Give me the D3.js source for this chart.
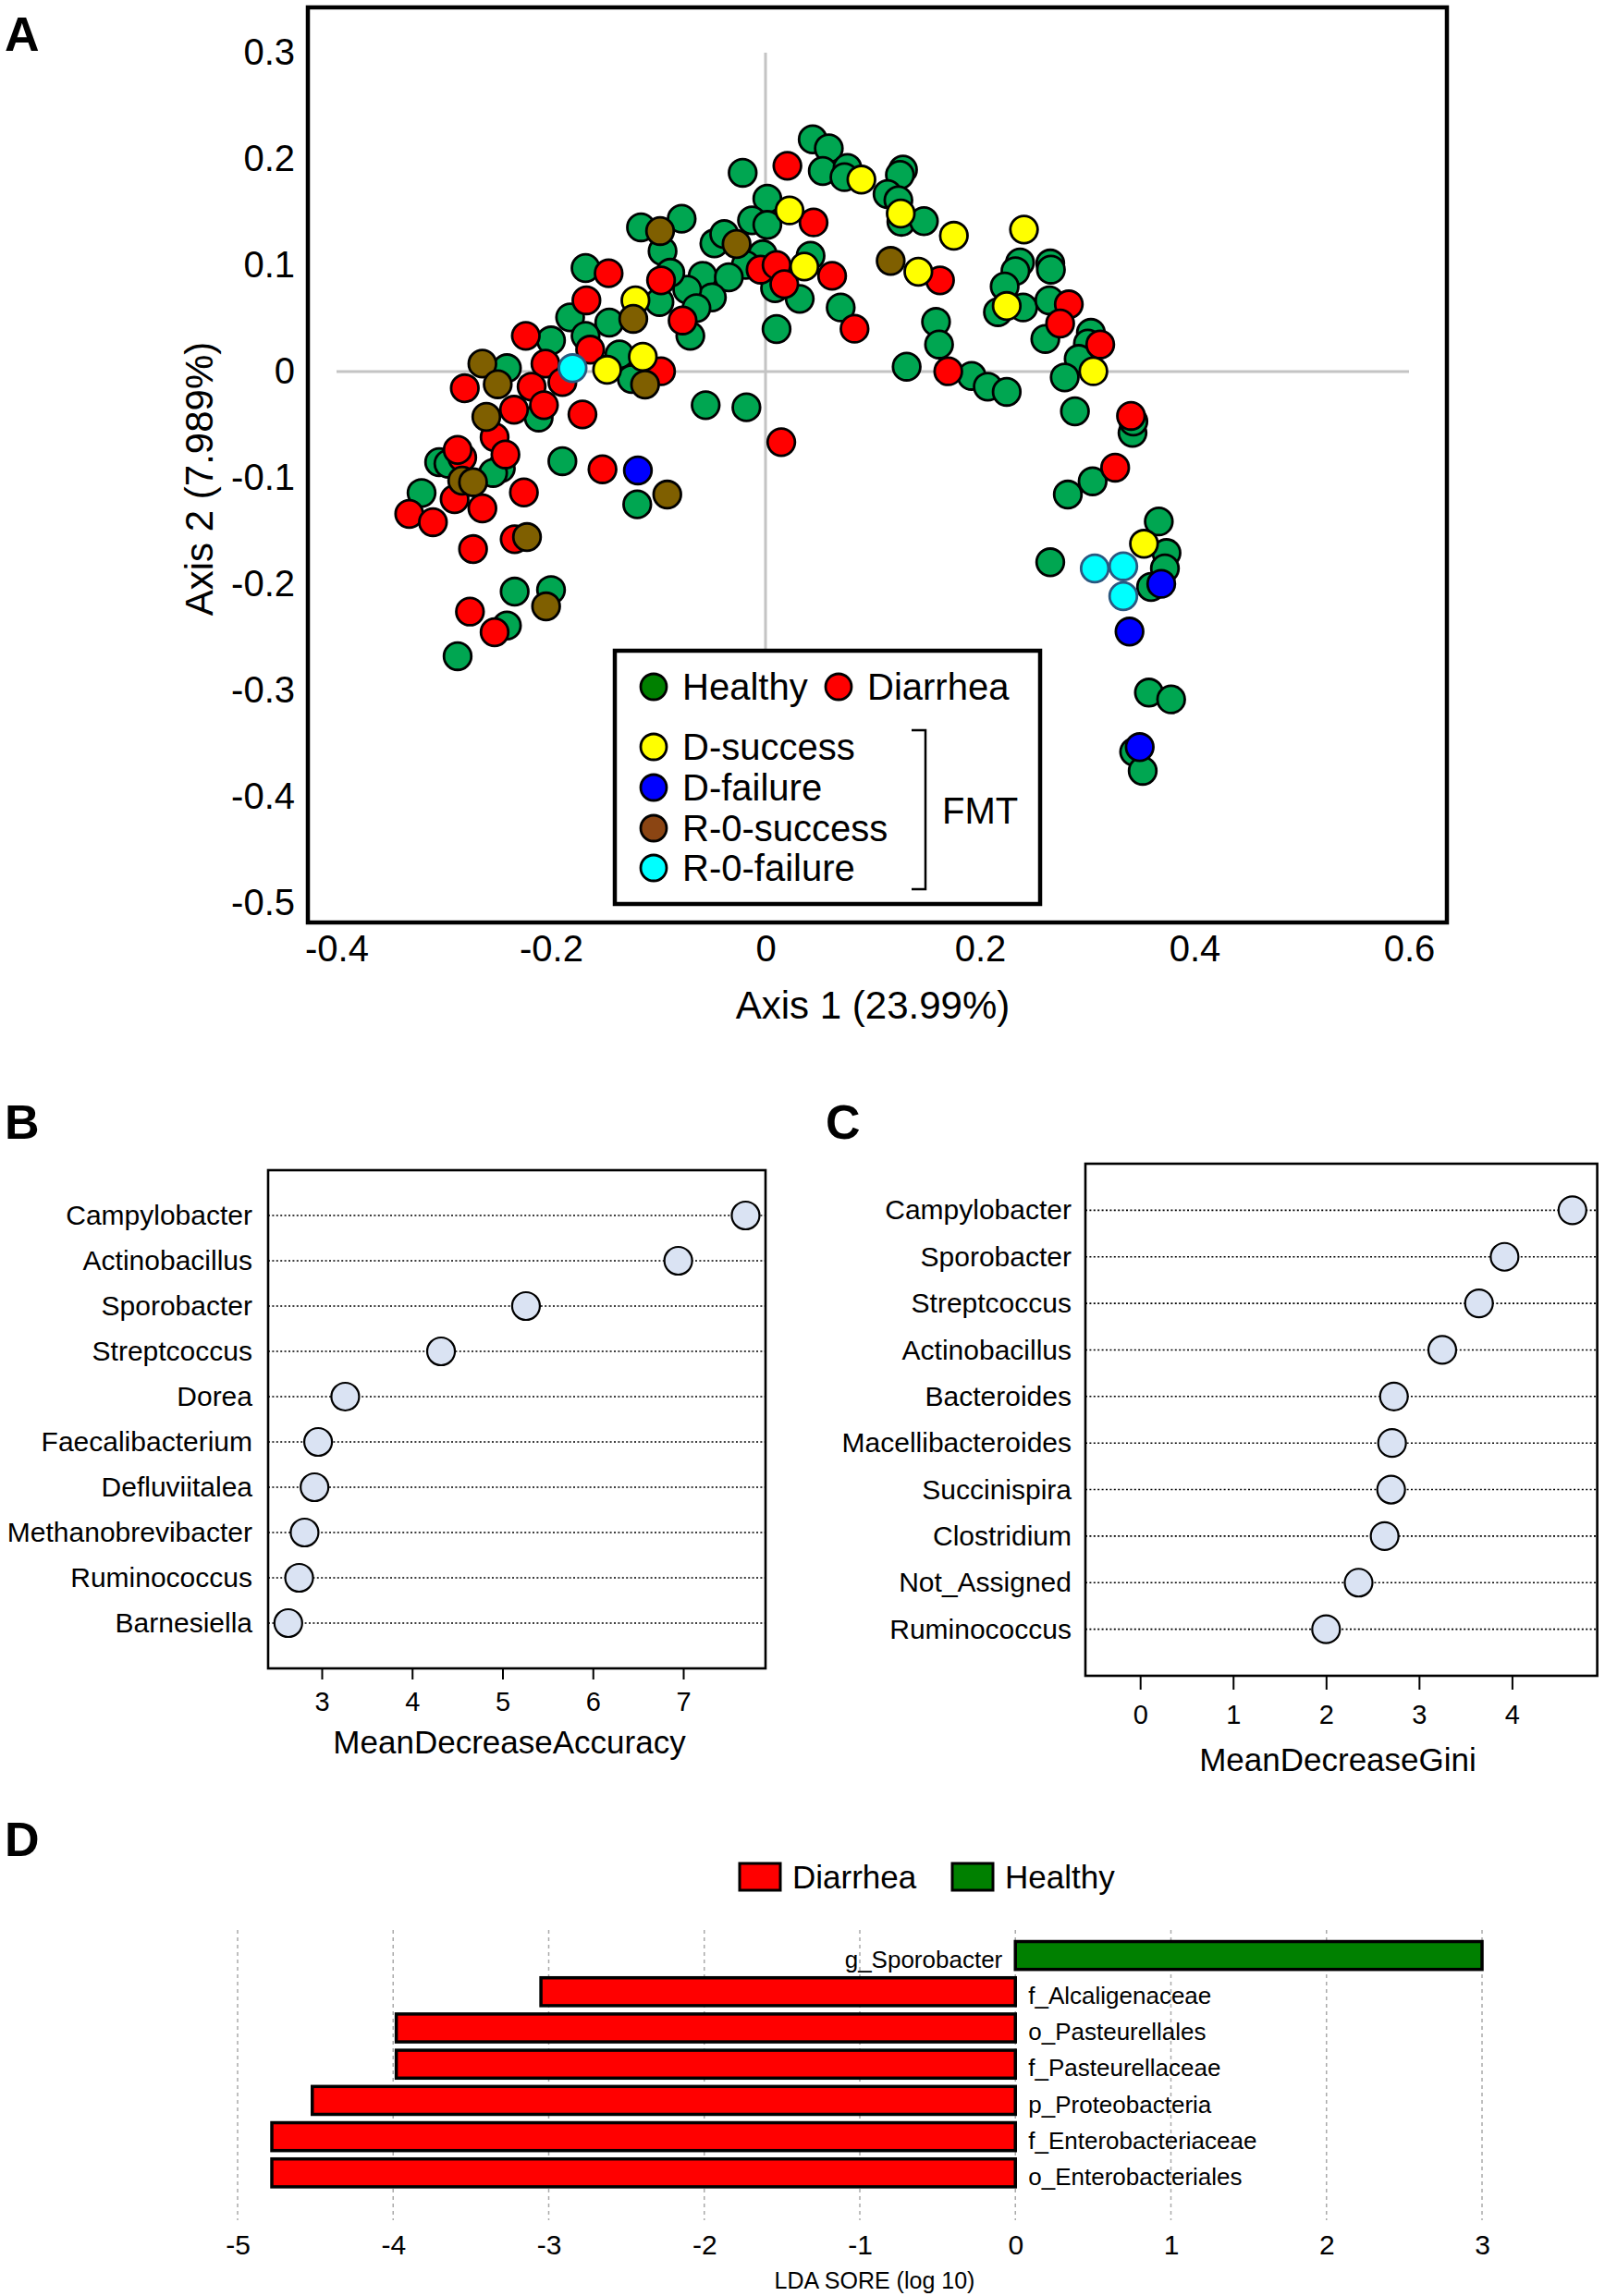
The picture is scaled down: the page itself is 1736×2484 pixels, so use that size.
<!DOCTYPE html>
<html><head><meta charset="utf-8">
<script src="https://cdn.jsdelivr.net/npm/d3@7"></script>
<style>body{margin:0;background:#fff}</style>
</head><body><svg id="c" width="1736" height="2484"></svg>
<script>
// ---------------- Panel A data (PCoA coordinates) ----------------
const healthy = [
[0.044,0.2185],[0.059,0.210],[0.0534,0.1887],[-0.0213,0.187],[0.0017,0.1626],[-0.0126,0.1423],[0.0017,0.138],
[-0.0477,0.1206],[-0.0385,0.1293],[-0.0026,0.1104],[-0.0184,0.1003],[0.0089,0.0785],[0.042,0.109],[0.0319,0.0684],
[0.0103,0.04],[-0.0782,0.1438],[-0.1161,0.1357],[-0.096,0.1133],[-0.0586,0.0901],[-0.0342,0.0887],[-0.05,0.0698],
[-0.073,0.0771],[-0.0701,0.0336],[-0.0989,0.0655],[-0.0888,0.093],[-0.0644,0.0597],[-0.1457,0.0461],[-0.1678,0.0974],
[-0.1822,0.051],[-0.1678,0.0336],[-0.2,0.0293],[-0.1362,0.0162],[-0.1247,-0.007],[-0.2411,0.0032],[-0.2115,-0.0432],
[-0.0558,-0.0316],[-0.0178,-0.0336],[-0.3043,-0.0852],[-0.2957,-0.0867],[-0.2468,-0.091],[-0.254,-0.0954],
[-0.3207,-0.1142],[-0.1894,-0.0843],[-0.1196,-0.1249],[-0.2339,-0.207],[-0.2,-0.2055],[-0.2411,-0.2389],
[-0.2871,-0.2678],[0.0764,0.1916],[0.0736,0.1829],[0.1282,0.19],[0.1253,0.185],[0.1138,0.167],[0.1239,0.1612],
[0.1267,0.1409],[0.1477,0.1415],[0.0701,0.0603],[0.159,0.0467],[0.1618,0.0255],[0.1316,0.0046],[0.1922,-0.0041],
[0.2072,-0.0142],[0.2249,-0.0191],[0.2373,0.1026],[0.233,0.0945],[0.2655,0.1017],[0.2661,0.0959],[0.223,0.08],
[0.2167,0.0559],[0.2402,0.0603],[0.2647,0.067],[0.2609,0.0307],[0.3034,0.0365],[0.3006,0.0264],[0.292,0.0119],
[0.279,-0.0055],[0.2885,-0.0374],[0.3422,-0.0577],[0.343,-0.047],[0.305,-0.1032],[0.2819,-0.1157],[0.3667,-0.141],
[0.3739,-0.1707],[0.3724,-0.1852],[0.3595,-0.2026],[0.2655,-0.1794],[0.3575,-0.302],[0.3782,-0.3084],
[0.3437,-0.3577],[0.3517,-0.3756]
];
const diarrhea = [
[0.0204,0.1936],[0.0448,0.1403],[-0.0046,0.0959],[0.0103,0.1003],[0.0175,0.0823],[-0.0773,0.0481],[-0.0974,0.0858],
[-0.1463,0.0925],[-0.167,0.067],[-0.2235,0.0336],[-0.1635,0.0206],[-0.2052,0.0075],[-0.0974,0.0003],[-0.2804,-0.0157],
[-0.1894,-0.0099],[-0.2181,-0.0142],[-0.2066,-0.0316],[-0.2345,-0.0359],[-0.1707,-0.0403],[0.0147,-0.0664],
[-0.2526,-0.0617],[-0.2425,-0.078],[-0.2828,-0.0809],[-0.2871,-0.0737],[-0.2899,-0.12],[-0.264,-0.1287],
[-0.3322,-0.1339],[-0.3101,-0.1417],[-0.2253,-0.1137],[-0.2727,-0.167],[-0.2339,-0.1577],[-0.152,-0.0919],
[-0.2756,-0.2258],[-0.2526,-0.2452],[0.0621,0.0901],[0.083,0.0403],[0.1627,0.0858],[0.1704,0.0003],[0.2828,0.0632],
[0.2747,0.0452],[0.3121,0.0255],[0.3408,-0.0417],[0.326,-0.0904]
];
const dSuccess = [
[0.0224,0.1516],[0.0362,0.0988],[-0.1213,0.067],[-0.1477,0.0017],[-0.1144,0.0139],[0.0894,0.1806],[0.1261,0.1487],
[0.1756,0.1278],[0.1425,0.0939],[0.241,0.1336],[0.2249,0.0617],[0.3057,0.0003],[0.3529,-0.162]
];
const dFailure = [[-0.119,-0.093],[0.369,-0.1997],[0.3394,-0.2446],[0.3489,-0.3533]];
const r0Success = [
[-0.027,0.12],[-0.0983,0.1322],[-0.1233,0.0496],[-0.1123,-0.0122],[-0.264,0.0075],[-0.2497,-0.0119],[-0.2603,-0.0426],
[-0.2828,-0.1026],[-0.2727,-0.1041],[-0.2224,-0.1557],[-0.0916,-0.1157],[-0.2046,-0.2209],[0.1167,0.1041]
];
const r0Failure = [[-0.1799,0.0032],[0.307,-0.1852],[0.3336,-0.1832],[0.3336,-0.2113]];
const xTicksA = [-0.4,-0.2,0,0.2,0.4,0.6];
const yTicksA = [0.3,0.2,0.1,0,-0.1,-0.2,-0.3,-0.4,-0.5];
const legendTopA = ["Healthy","Diarrhea"];
const legendFmtA = ["D-success","D-failure","R-0-success","R-0-failure"];

// ---------------- Panel B data ----------------
const taxaB = ["Campylobacter","Actinobacillus","Sporobacter","Streptcoccus","Dorea","Faecalibacterium","Defluviitalea","Methanobrevibacter","Ruminococcus","Barnesiella"];
const accuracyB = [7.69,6.945,5.26,4.32,3.26,2.96,2.92,2.81,2.75,2.63];
const xTicksB = [3,4,5,6,7];

// ---------------- Panel C data ----------------
const taxaC = ["Campylobacter","Sporobacter","Streptcoccus","Actinobacillus","Bacteroides","Macellibacteroides","Succinispira","Clostridium","Not_Assigned","Ruminococcus"];
const giniC = [4.65,3.92,3.645,3.25,2.73,2.71,2.70,2.63,2.35,2.00];
const xTicksC = [0,1,2,3,4];

// ---------------- Panel D data ----------------
const taxaD = ["g_Sporobacter","f_Alcaligenaceae","o_Pasteurellales","f_Pasteurellaceae","p_Proteobacteria","f_Enterobacteriaceae","o_Enterobacteriales"];
const ldaD = [3.0,-3.05,-3.98,-3.98,-4.52,-4.78,-4.78];
const classD = ["Healthy","Diarrhea","Diarrhea","Diarrhea","Diarrhea","Diarrhea","Diarrhea"];
const xTicksD = [-5,-4,-3,-2,-1,0,1,2,3];
const legendD = ["Diarrhea","Healthy"];

// ---------------- Drawing ----------------
const FONT = '"Liberation Sans", Arial, Helvetica, sans-serif';
const svg = d3.select("#c");
svg.append("rect").attr("width",1736).attr("height",2484).attr("fill","#fff");

function styleAxis(g, size){
  g.select(".domain").remove();
  g.selectAll("text").attr("font-size",size).attr("font-family",FONT).attr("fill","#000");
  g.selectAll("line").attr("stroke","#000").attr("stroke-width",2);
}
function panelLabel(t,x,y){
  svg.append("text").attr("x",x).attr("y",y).text(t).attr("font-family",FONT)
    .attr("font-weight","bold").attr("font-size",52).attr("fill","#000");
}

// ===== Panel A =====
panelLabel("A",5,55);
const xA = d3.scaleLinear().domain([-0.4,0.6]).range([364,1524]);
const yA = d3.scaleLinear().domain([-0.5,0.3]).range([977,57]);
const A = svg.append("g");
A.append("line").attr("x1",xA(-0.4)).attr("x2",xA(0.6)).attr("y1",yA(0)).attr("y2",yA(0))
  .attr("stroke","#c4c4c4").attr("stroke-width",3);
A.append("line").attr("x1",xA(0)).attr("x2",xA(0)).attr("y1",yA(0.3)).attr("y2",yA(-0.5))
  .attr("stroke","#c4c4c4").attr("stroke-width",3);

const groupsA = [
  {data:healthy, fill:"#00a651", stroke:"#000"},
  {data:diarrhea, fill:"#ff0000", stroke:"#000"},
  {data:dSuccess, fill:"#ffff00", stroke:"#000"},
  {data:dFailure, fill:"#0000ff", stroke:"#000"},
  {data:r0Success, fill:"#7f5f00", stroke:"#000"},
  {data:r0Failure, fill:"#00ffff", stroke:"#2a5880"}
];
groupsA.forEach(gr=>{
  A.append("g").selectAll("circle").data(gr.data).join("circle")
    .attr("cx",d=>xA(d[0])).attr("cy",d=>yA(d[1])).attr("r",14.8)
    .attr("fill",gr.fill).attr("stroke",gr.stroke).attr("stroke-width",2.8);
});

const axXA = A.append("g").attr("transform","translate(0,998)")
  .call(d3.axisBottom(xA).tickValues(xTicksA).tickSize(0).tickPadding(14).tickFormat(d=>String(d)));
styleAxis(axXA,40);
const axYA = A.append("g").attr("transform","translate(333,0)")
  .call(d3.axisLeft(yA).tickValues(yTicksA).tickSize(0).tickPadding(14).tickFormat(d=>String(d)));
styleAxis(axYA,40);

A.append("rect").attr("x",333).attr("y",8).attr("width",1232).attr("height",990)
  .attr("fill","none").attr("stroke","#000").attr("stroke-width",4.5);
A.append("text").attr("x",944).attr("y",1102).attr("text-anchor","middle").attr("font-family",FONT)
  .attr("font-size",42).text("Axis 1 (23.99%)");
A.append("text").attr("transform","translate(230,518) rotate(-90)").attr("text-anchor","middle")
  .attr("font-family",FONT).attr("font-size",42).text("Axis 2 (7.989%)");

// legend
const LA = A.append("g");
LA.append("rect").attr("x",665).attr("y",704).attr("width",460).attr("height",274)
  .attr("fill","#fff").attr("stroke","#000").attr("stroke-width",4.5);
const legTopColors = ["#008000","#ff0000"];
const legTopX = [707,907];
legendTopA.forEach((t,i)=>{
  LA.append("circle").attr("cx",legTopX[i]).attr("cy",743).attr("r",14).attr("fill",legTopColors[i])
    .attr("stroke","#000").attr("stroke-width",2.8);
  LA.append("text").attr("x",legTopX[i]+31).attr("y",743).attr("dy","0.35em").attr("font-family",FONT)
    .attr("font-size",40).text(t);
});
const legFmtColors = ["#ffff00","#0000ff","#8b4513","#00ffff"];
const legFmtY = [808,852,896,939];
legendFmtA.forEach((t,i)=>{
  LA.append("circle").attr("cx",707).attr("cy",legFmtY[i]).attr("r",14).attr("fill",legFmtColors[i])
    .attr("stroke","#000").attr("stroke-width",2.8);
  LA.append("text").attr("x",738).attr("y",legFmtY[i]).attr("dy","0.35em").attr("font-family",FONT)
    .attr("font-size",40).text(t);
});
LA.append("path").attr("d","M986,790H1001V962H986").attr("fill","none").attr("stroke","#000").attr("stroke-width",2.5);
LA.append("text").attr("x",1019).attr("y",877).attr("dy","0.35em").attr("font-family",FONT)
  .attr("font-size",40).text("FMT");

// ===== Dot charts (B, C) =====
function dotChart(opt){
  const g = svg.append("g");
  const x = d3.scaleLinear().domain(opt.xd).range(opt.xr);
  const y = d3.scalePoint().domain(opt.taxa).range([opt.top,opt.bottom]).padding(1);
  g.selectAll("line.dot").data(opt.taxa).join("line").attr("class","dot")
    .attr("x1",opt.left).attr("x2",opt.right).attr("y1",d=>y(d)).attr("y2",d=>y(d))
    .attr("stroke","#000").attr("stroke-width",1.6).attr("stroke-dasharray","2,2.4");
  g.selectAll("circle").data(opt.vals).join("circle")
    .attr("cx",d=>x(d)).attr("cy",(d,i)=>y(opt.taxa[i])).attr("r",15)
    .attr("fill","#dae3f3").attr("stroke","#000").attr("stroke-width",2.2);
  g.append("rect").attr("x",opt.left).attr("y",opt.top).attr("width",opt.right-opt.left)
    .attr("height",opt.bottom-opt.top).attr("fill","none").attr("stroke","#000").attr("stroke-width",2.6);
  const ax = g.append("g").attr("transform",`translate(0,${opt.bottom})`)
    .call(d3.axisBottom(x).tickValues(opt.ticks).tickSize(opt.tickSize).tickSizeOuter(0).tickPadding(opt.tickPad).tickFormat(d=>String(d)));
  styleAxis(ax,29);
  const ay = g.append("g").attr("transform",`translate(${opt.left},0)`)
    .call(d3.axisLeft(y).tickSize(0).tickPadding(opt.labPad));
  styleAxis(ay,30);
  g.append("text").attr("x",opt.titleX).attr("y",opt.titleY).attr("text-anchor","middle")
    .attr("font-family",FONT).attr("font-size",35).text(opt.title);
}
panelLabel("B",5,1232);
dotChart({taxa:taxaB, vals:accuracyB, xd:[3,7], xr:[348,739], left:290, right:828, top:1266, bottom:1805,
  ticks:xTicksB, tickSize:12, tickPad:13, labPad:17, title:"MeanDecreaseAccuracy", titleX:551, titleY:1897});
panelLabel("C",893,1232);
dotChart({taxa:taxaC, vals:giniC, xd:[0,4], xr:[1233.2,1635.4], left:1174, right:1727.6, top:1259, bottom:1813,
  ticks:xTicksC, tickSize:15, tickPad:16, labPad:15, title:"MeanDecreaseGini", titleX:1447, titleY:1916});

// ===== Panel D =====
panelLabel("D",5,2008);
const xD = d3.scaleLinear().domain([-5,3]).range([257,1603]);
const yD = d3.scaleBand().domain(taxaD).range([2096,2370.4]).paddingInner(0.23).paddingOuter(0.115);
const D = svg.append("g");
const colD = {Diarrhea:"#ff0000", Healthy:"#008000"};
D.selectAll("line.grid").data(xTicksD).join("line").attr("class","grid")
  .attr("x1",d=>xD(d)).attr("x2",d=>xD(d)).attr("y1",2088).attr("y2",2402)
  .attr("stroke","#aaa").attr("stroke-width",1.5).attr("stroke-dasharray","4,4");
D.selectAll("rect.bar").data(ldaD).join("rect").attr("class","bar")
  .attr("x",d=>xD(Math.min(0,d))).attr("width",d=>Math.abs(xD(d)-xD(0)))
  .attr("y",(d,i)=>yD(taxaD[i])).attr("height",yD.bandwidth())
  .attr("fill",(d,i)=>colD[classD[i]]).attr("stroke","#000").attr("stroke-width",3.5);
D.selectAll("text.lab").data(ldaD).join("text").attr("class","lab")
  .attr("x",d=>d>0 ? xD(0)-14 : xD(0)+14).attr("text-anchor",d=>d>0?"end":"start")
  .attr("y",(d,i)=>yD(taxaD[i])+yD.bandwidth()/2+4).attr("dy","0.35em")
  .attr("font-family",FONT).attr("font-size",26).text((d,i)=>taxaD[i]);
const axD = D.append("g").attr("transform","translate(0,2402)")
  .call(d3.axisBottom(xD).tickValues(xTicksD).tickSize(0).tickPadding(16).tickFormat(d=>String(d)));
styleAxis(axD,30);
D.append("text").attr("x",946).attr("y",2476).attr("text-anchor","middle").attr("font-family",FONT)
  .attr("font-size",25).text("LDA SORE (log 10)");
const legDX = [800,1030];
legendD.forEach((t,i)=>{
  D.append("rect").attr("x",legDX[i]).attr("y",2016).attr("width",44).attr("height",29)
    .attr("fill",colD[t]).attr("stroke","#000").attr("stroke-width",3);
  D.append("text").attr("x",legDX[i]+57).attr("y",2031).attr("dy","0.35em").attr("font-family",FONT)
    .attr("font-size",35).text(t);
});
</script></body></html>
